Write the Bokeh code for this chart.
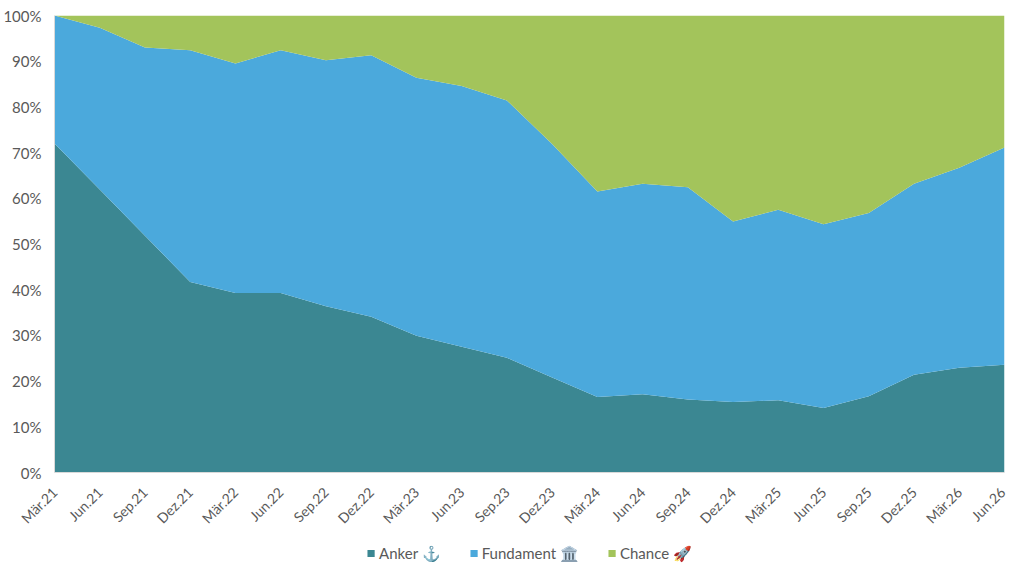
import math
from bokeh.plotting import figure
from bokeh.layouts import column
from bokeh.models import (ColumnDataSource, Range1d, FixedTicker, NumeralTickFormatter,
                          Legend, LegendItem)
from bokeh.embed import file_html
from bokeh.resources import INLINE

quarters = ["Mär.21", "Jun.21", "Sep.21", "Dez.21", "Mär.22", "Jun.22", "Sep.22", "Dez.22",
            "Mär.23", "Jun.23", "Sep.23", "Dez.23", "Mär.24", "Jun.24", "Sep.24", "Dez.24",
            "Mär.25", "Jun.25", "Sep.25", "Dez.25", "Mär.26", "Jun.26"]
anker = [72.0, 61.9, 51.8, 41.7, 39.3, 39.3, 36.4, 34.1, 29.9, 27.5, 25.1,
         20.8, 16.5, 17.1, 16.0, 15.4, 15.8, 14.1, 16.7, 21.4, 22.9, 23.6]
fundament = [28.0, 35.4, 41.2, 50.7, 50.2, 53.1, 53.8, 57.2, 56.5, 57.1, 56.3,
             51.1, 45.0, 46.1, 46.4, 39.5, 41.7, 40.2, 40.1, 41.8, 43.8, 47.5]
chance = [0.0, 2.7, 7.0, 7.6, 10.5, 7.6, 9.8, 8.7, 13.6, 15.4, 18.6,
          28.1, 38.5, 36.8, 37.6, 45.1, 42.5, 45.7, 43.2, 36.8, 33.3, 28.9]
series_names = ["Anker \u2693", "Fundament \U0001F3DB\uFE0F", "Chance \U0001F680"]
colors = ["#3B8792", "#4BA9DC", "#A3C45B"]

xs = list(range(len(quarters)))
src = ColumnDataSource(dict(
    x=xs,
    anker=[v / 100 for v in anker],
    fundament=[v / 100 for v in fundament],
    chance=[v / 100 for v in chance],
))

FONT = "Lato"
GREY = "#595959"

p = figure(width=1008, height=538, output_backend="svg", toolbar_location=None,
           x_range=Range1d(0, len(quarters) - 1), y_range=Range1d(0, 1),
           min_border_left=45, min_border_right=4, min_border_top=15, min_border_bottom=66)
p.outline_line_color = None
p.xgrid.visible = False
p.ygrid.visible = False

p.varea_stack(["anker", "fundament", "chance"], x="x", source=src, color=colors)

p.yaxis.ticker = FixedTicker(ticks=[i / 10 for i in range(11)])
p.yaxis.formatter = NumeralTickFormatter(format="0%")
p.yaxis.axis_line_color = "#D9D9D9"
p.yaxis.major_tick_line_color = None
p.yaxis.minor_tick_line_color = None
p.yaxis.major_label_text_font = FONT
p.yaxis.major_label_text_font_size = "15px"
p.yaxis.major_label_text_color = GREY
p.yaxis.major_label_standoff = 7

p.xaxis.ticker = FixedTicker(ticks=xs)
p.xaxis.major_label_overrides = {i: q for i, q in enumerate(quarters)}
p.xaxis.major_label_orientation = math.pi / 4
p.xaxis.axis_line_color = "#D9D9D9"
p.xaxis.major_tick_line_color = None
p.xaxis.minor_tick_line_color = None
p.xaxis.major_label_text_font = FONT
p.xaxis.major_label_text_font_size = "14px"
p.xaxis.major_label_text_color = GREY
p.xaxis.major_label_standoff = 11

# legend in its own strip below the chart (swatches only, no plotted marks)
lf = figure(width=1008, height=30, output_backend="svg", toolbar_location=None,
            x_range=Range1d(0, 1), y_range=Range1d(0, 1),
            min_border=0)
lf.outline_line_color = None
lf.xaxis.visible = False
lf.yaxis.visible = False
lf.xgrid.visible = False
lf.ygrid.visible = False
nan = float("nan")
leg_renderers = []
for c in colors:
    swatch = ColumnDataSource(dict(l=[nan], r=[nan], b=[nan], t=[nan]))
    leg_renderers.append(lf.quad(left="l", right="r", bottom="b", top="t", source=swatch,
                                 fill_color=c, line_color=None))

legend = Legend(items=[LegendItem(label=n, renderers=[r], index=0)
                       for n, r in zip(series_names, leg_renderers)],
                orientation="horizontal", location="center")
legend.label_text_font = FONT
legend.label_text_font_size = "15px"
legend.label_text_color = GREY
legend.glyph_width = 9
legend.glyph_height = 9
legend.spacing = 28
legend.label_standoff = 4
legend.border_line_color = None
legend.background_fill_alpha = 0
legend.margin = 0
legend.padding = 2
lf.add_layout(legend, "center")

layout = column(p, lf, spacing=0)
open("out.html", "w").write(file_html(layout, INLINE))
